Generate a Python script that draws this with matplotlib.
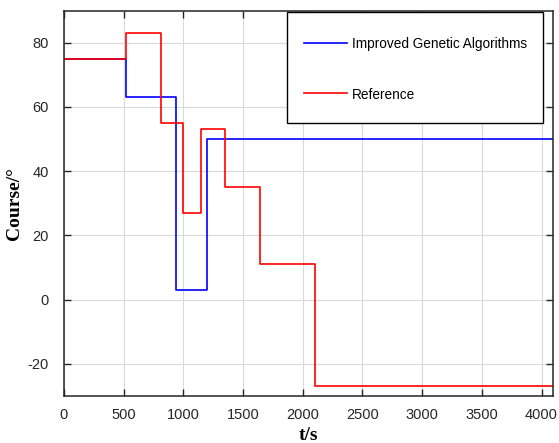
import matplotlib
matplotlib.use('Agg')
import matplotlib.pyplot as plt
from matplotlib.patches import Rectangle

# tiempos de cambio (s) y rumbo (grados)
t_iga = [0, 520, 935, 1200, 4096]
rumbo_iga = [75, 63, 3, 50, 50]
t_ref = [0, 520, 810, 1000, 1150, 1350, 1645, 2100, 4096]
rumbo_ref = [75, 83, 55, 27, 53, 35, 11, -27, -27]

xticks = [0, 500, 1000, 1500, 2000, 2500, 3000, 3500, 4000]
yticks = [-20, 0, 20, 40, 60, 80]

plt.rcParams['font.family'] = 'Liberation Sans'
plt.rcParams['axes.unicode_minus'] = False

fig = plt.figure(figsize=(5.59, 4.43), dpi=100)
ax = fig.add_axes([64 / 559, 47 / 443, 489 / 559, 385.5 / 443])

ax.step(t_iga, rumbo_iga, where='post', color='blue', lw=1.2, label='Improved Genetic Algorithms')
ax.step(t_ref, rumbo_ref, where='post', color='red', lw=1.2, label='Reference')

ax.set_xlim(0, 4096)
ax.set_ylim(-30, 90)
ax.set_xticks(xticks)
ax.set_yticks(yticks)
ax.grid(True, color='#d9d9d9', lw=0.8)
ax.set_axisbelow(True)
ax.tick_params(direction='in', top=True, right=True, labelsize=10.5, length=5, width=1,
               colors='#262626')
ax.tick_params(axis='x', pad=8.5)
ax.tick_params(axis='y', pad=11)
for s in ax.spines.values():
    s.set_linewidth(1.1)
    s.set_color('#262626')

ax.set_xlabel('t/s', fontsize=14, fontweight='bold', family='Liberation Serif', labelpad=4)
ax.set_ylabel('Course/°', fontsize=14, fontweight='bold', family='Liberation Serif', labelpad=3.5)

# caja de la leyenda dibujada aparte (mas alta que la de matplotlib)
caja = Rectangle((0.4566, 0.709), 0.5234, 0.287, transform=ax.transAxes,
                 facecolor='white', edgecolor='black', lw=1.0, zorder=4)
ax.add_patch(caja)

leg = ax.legend(loc='upper left', bbox_to_anchor=(0.4566, 0.9734, 0.5234, 0.0), mode='expand',
                borderaxespad=0, fontsize=9.8, borderpad=1.2, handleheight=1.0,
                labelspacing=2.7, handlelength=3.2, handletextpad=0.37, frameon=False)
leg.set_zorder(5)

fig.savefig('out.png', dpi=100)
